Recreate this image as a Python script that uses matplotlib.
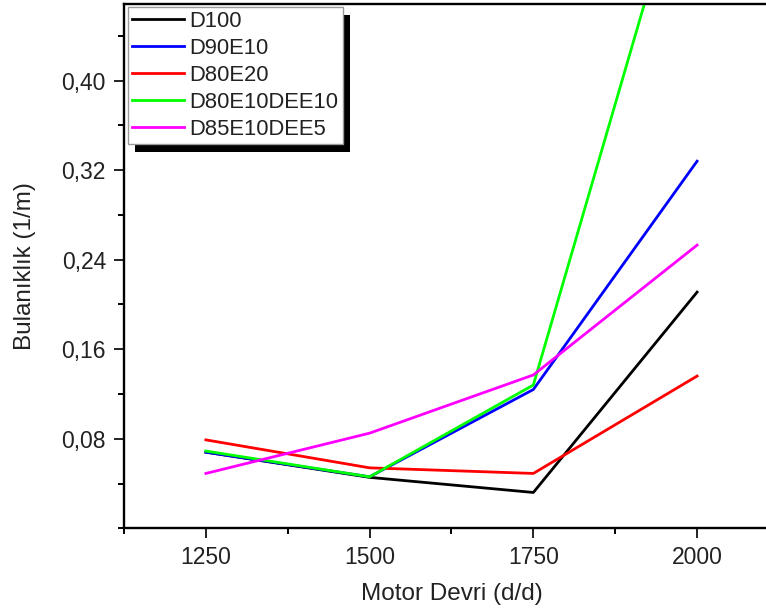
import matplotlib
matplotlib.use('Agg')
import matplotlib.pyplot as plt
from matplotlib.patches import Rectangle
from matplotlib.transforms import IdentityTransform
from matplotlib.ticker import MultipleLocator, FuncFormatter

plt.rcParams['font.family'] = ['Liberation Sans', 'DejaVu Sans']

# motor speed (d/d)
rpm = [1250, 1500, 1750, 2000]

# turbidity values (1/m)
d100 = [0.068, 0.0455, 0.032, 0.211]
d90e10 = [0.068, 0.046, 0.124, 0.328]
d80e20 = [0.079, 0.054, 0.049, 0.136]
d80e10dee10 = [0.069, 0.046, 0.128, 0.63]
d85e10dee5 = [0.049, 0.085, 0.137, 0.253]

labels = ['D100', 'D90E10', 'D80E20', 'D80E10DEE10', 'D85E10DEE5']
colors = ['#000000', '#0000ff', '#ff0000', '#00ff00', '#ff00ff']
series = [d100, d90e10, d80e20, d80e10dee10, d85e10dee5]

fig = plt.figure(figsize=(7.66, 6.16), dpi=100)
# axes runs off the right edge like in the original crop
ax = fig.add_axes([0.1619, 0.1424, 0.855, 0.8503])

for vals, lab, col in zip(series, labels, colors):
    ax.plot(rpm, vals, color=col, lw=2.0, label=lab)

ax.set_xlim(1125, 2125)
ax.set_ylim(0, 0.468)

ax.xaxis.set_major_locator(MultipleLocator(250))
ax.xaxis.set_minor_locator(MultipleLocator(125))
ax.yaxis.set_minor_locator(MultipleLocator(0.04))
ax.yaxis.set_major_formatter(FuncFormatter(lambda v, p: f'{v:.2f}'.replace('.', ',')))

# no 0,00 label in the original
ax.set_yticks([0.08, 0.16, 0.24, 0.32, 0.40])

for s in ['left', 'bottom', 'top']:
    ax.spines[s].set_linewidth(1.7)
ax.spines['right'].set_visible(False)

ax.tick_params(which='major', direction='out', length=7, width=1.4,
               labelsize=16.5, pad=6, colors='#222222')
ax.tick_params(which='minor', direction='out', length=4, width=1.4)

ax.set_xlabel('Motor Devri (d/d)', fontsize=17.5, color='#222222', labelpad=10)
ax.set_ylabel('Bulanıklık (1/m)', fontsize=17.5, color='#222222')
ax.yaxis.set_label_coords(-0.134, 0.5)

leg = ax.legend(loc='upper left', bbox_to_anchor=(0.006, 0.996), borderaxespad=0,
                fontsize=15.8, frameon=True, fancybox=False, framealpha=1,
                edgecolor='#9a9a9a', handlelength=2.35, handletextpad=0.25,
                borderpad=0.2, labelspacing=0.27)
leg.get_frame().set_linewidth(1.0)
for t in leg.get_texts():
    t.set_color('#222222')

# solid black drop shadow behind the legend box
fig.canvas.draw()
bb = leg.get_window_extent()
shadow = Rectangle((bb.x0 + 7, bb.y0 - 8), bb.width, bb.height,
                   transform=IdentityTransform(), facecolor='black',
                   edgecolor='none', zorder=4.9, clip_on=False)
ax.add_artist(shadow)

fig.savefig('out.png', dpi=100)
